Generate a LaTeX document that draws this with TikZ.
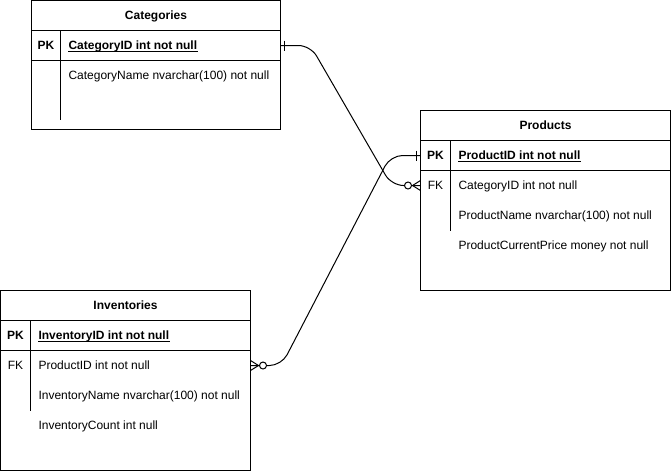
\documentclass[tikz,border=0pt]{standalone}
\usepackage{fontspec}
\setmainfont{Liberation Sans}
\begin{document}
\begin{tikzpicture}[x=1pt,y=-1pt,line width=1pt,
  font=\fontsize{12}{14}\selectfont,
  tbl/.style={draw,rectangle,inner sep=0pt,outer sep=0pt,line width=1pt,anchor=north west},
  hdr/.style={anchor=base,inner sep=0pt,font=\fontsize{12}{14}\selectfont\bfseries},
  key/.style={anchor=base,inner sep=0pt},
  fld/.style={anchor=base west,inner sep=0pt},
  rel/.style={draw,line width=1pt,rounded corners=12pt},
  mark circ/.style={draw,fill=white,line width=1pt,circle,inner sep=0pt,minimum size=7pt}]
\useasboundingbox (0,0) rectangle (671,471);

% ---------- Categories ----------
\node[tbl,minimum width=249pt,minimum height=129pt] (cat) at (31.5,0.5) {};
\draw (31.5,30.5) -- (280.5,30.5);
\draw (31.5,60.5) -- (280.5,60.5);
\draw (60.5,30.5) -- (60.5,119.5);
\node[hdr] (cath) at (156,19.8) {Categories};
\node[key,font=\fontsize{12}{14}\selectfont\bfseries] (catpkl) at (46,49.8) {PK};
\node[fld,font=\fontsize{12}{14}\selectfont\bfseries] (catid) at (68,49.8) {CategoryID int not null};
\draw[line width=0.9pt] ([yshift=-2pt]catid.base west) -- ([yshift=-2pt]catid.base east);
\node[fld] (catname) at (68,79.8) {CategoryName nvarchar(100) not null};

% ---------- Products ----------
\node[tbl,minimum width=250pt,minimum height=180pt] (prod) at (420.5,110.5) {};
\draw (420.5,140.5) -- (670.5,140.5);
\draw (420.5,170.5) -- (670.5,170.5);
\draw (450.5,140.5) -- (450.5,230.5);
\node[hdr] (prodh) at (545.5,129.8) {Products};
\node[key,font=\fontsize{12}{14}\selectfont\bfseries] (prodpkl) at (435.5,159.8) {PK};
\node[fld,font=\fontsize{12}{14}\selectfont\bfseries] (prodid) at (458,159.8) {ProductID int not null};
\draw[line width=0.9pt] ([yshift=-2pt]prodid.base west) -- ([yshift=-2pt]prodid.base east);
\node[key] (prodfkl) at (435.5,189.8) {FK};
\node[fld] (prodcat) at (458,189.8) {CategoryID int not null};
\node[fld] (prodname) at (458,219.8) {ProductName nvarchar(100) not null};
\node[fld] (prodprice) at (458,249.8) {ProductCurrentPrice money not null};

% ---------- Inventories ----------
\node[tbl,minimum width=250pt,minimum height=180pt] (inv) at (0.5,290.5) {};
\draw (0.5,320.5) -- (250.5,320.5);
\draw (0.5,350.5) -- (250.5,350.5);
\draw (30.5,320.5) -- (30.5,410.5);
\node[hdr] (invh) at (125.5,309.8) {Inventories};
\node[key,font=\fontsize{12}{14}\selectfont\bfseries] (invpkl) at (15.5,339.8) {PK};
\node[fld,font=\fontsize{12}{14}\selectfont\bfseries] (invid) at (38,339.8) {InventoryID int not null};
\draw[line width=0.9pt] ([yshift=-2pt]invid.base west) -- ([yshift=-2pt]invid.base east);
\node[key] (invfkl) at (15.5,369.8) {FK};
\node[fld] (invprod) at (38,369.8) {ProductID int not null};
\node[fld] (invname) at (38,399.8) {InventoryName nvarchar(100) not null};
\node[fld] (invcount) at (38,429.8) {InventoryCount int null};

% ---------- connection points ----------
\coordinate (catpk) at (280.5,45.5);
\coordinate (prodfk) at (420.5,185.5);
\coordinate (prodpk) at (420.5,155.5);
\coordinate (invfk) at (250.5,365.5);

% ---------- relations ----------
\draw[rel] (catpk) -- ([xshift=30pt]catpk) -- ([xshift=-29pt]prodfk) -- (prodfk);
\draw[rel] (invfk) -- ([xshift=31pt]invfk) -- ([xshift=-30pt]prodpk) -- (prodpk);

% one (bar) ends
\draw ([xshift=4pt,yshift=5pt]catpk) -- ([xshift=4pt,yshift=-5pt]catpk);
\draw ([xshift=-4pt,yshift=5pt]prodpk) -- ([xshift=-4pt,yshift=-5pt]prodpk);

% zero-or-many ends
\draw ([xshift=-8pt]prodfk) -- ([yshift=5pt]prodfk);
\draw ([xshift=-8pt]prodfk) -- ([yshift=-5pt]prodfk);
\node[mark circ] (prodcirc) at ([xshift=-12.5pt]prodfk) {};

\draw ([xshift=8pt]invfk) -- ([yshift=5pt]invfk);
\draw ([xshift=8pt]invfk) -- ([yshift=-5pt]invfk);
\node[mark circ] (invcirc) at ([xshift=12.5pt]invfk) {};
\end{tikzpicture}
\end{document}
